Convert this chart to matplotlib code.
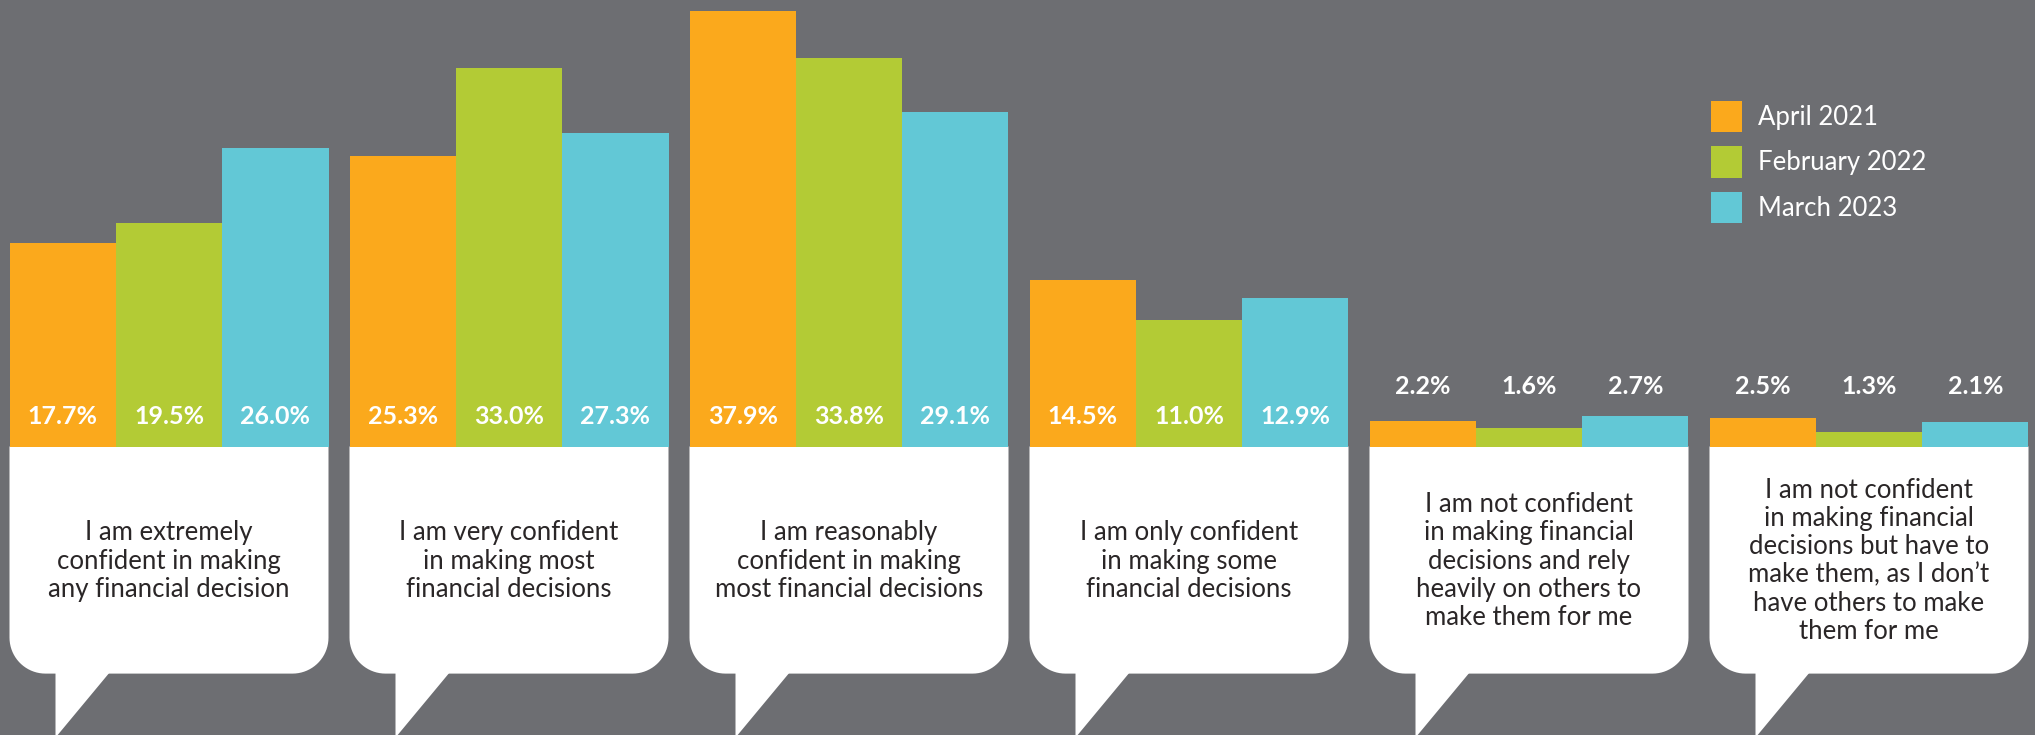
import matplotlib
matplotlib.use("Agg")
import matplotlib.pyplot as plt
import numpy as np
from matplotlib.patches import Polygon, Rectangle

categories = [
    "I am extremely\nconfident in making\nany financial decision",
    "I am very confident\nin making most\nfinancial decisions",
    "I am reasonably\nconfident in making\nmost financial decisions",
    "I am only confident\nin making some\nfinancial decisions",
    "I am not confident\nin making financial\ndecisions and rely\nheavily on others to\nmake them for me",
    "I am not confident\nin making financial\ndecisions but have to\nmake them, as I don\u2019t\nhave others to make\nthem for me",
]
series = ["April 2021", "February 2022", "March 2023"]
april_2021 = [17.7, 25.3, 37.9, 14.5, 2.2, 2.5]
february_2022 = [19.5, 33.0, 33.8, 11.0, 1.6, 1.3]
march_2023 = [26.0, 27.3, 29.1, 12.9, 2.7, 2.1]
values = [april_2021, february_2022, march_2023]

colors = ["#FBA91C", "#B3CB35", "#62C8D6"]
bg = "#6D6E72"
font = "Lato"

W, H = 2035, 735
fig = plt.figure(figsize=(W / 100, H / 100), dpi=100, facecolor=bg)
ax = fig.add_axes([0, 0, 1, 1])
ax.set_facecolor(bg)
ax.axis("off")

px_per_x = 340.0
px_per_y = 11.48
base_px = 446.5
first_center_px = 169.0
ax.set_xlim(-first_center_px / px_per_x, (W - first_center_px) / px_per_x)
ax.set_ylim(-(H - base_px) / px_per_y, base_px / px_per_y)

group_w = 319.0 / px_per_x
bar_w = group_w / 3
x = np.arange(len(categories))

bub_bottom = -(673.6 - base_px) / px_per_y
rx = 36 / px_per_x
ry = 36 / px_per_y
for i in x:
    L = i - group_w / 2
    R = i + group_w / 2
    t = np.linspace(0, np.pi / 2, 20)
    pts = [(L, 0), (R, 0)]
    for a in t:
        pts.append((R - rx + rx * np.cos(a), bub_bottom + ry - ry * np.sin(a)))
    for a in t[::-1]:
        pts.append((L + rx - rx * np.cos(a), bub_bottom + ry - ry * np.sin(a)))
    pts.append((L, 0))
    ax.add_patch(Polygon(pts, closed=True, facecolor="white", edgecolor="none", zorder=1))
    tail = [(L + 46 / px_per_x, bub_bottom + 1 / px_per_y),
            (L + 100 / px_per_x, bub_bottom + 1 / px_per_y),
            (L + 46 / px_per_x, bub_bottom - 64 / px_per_y)]
    ax.add_patch(Polygon(tail, closed=True, facecolor="white", edgecolor="none", zorder=1))
    ax.text(i, -(561 - base_px) / px_per_y, categories[i], ha="center", va="center",
            multialignment="center", fontsize=18.5, color="#2A2627", family=font,
            fontweight="normal", linespacing=1.16, zorder=3)

for j, (vals, c) in enumerate(zip(values, colors)):
    xs = x + (j - 1) * bar_w
    ax.bar(xs, vals, width=bar_w, color=c, edgecolor="none", zorder=2)
    for xi, v in zip(xs, vals):
        if v > 5:
            y = (base_px - 417) / px_per_y
        else:
            y = (base_px - 387) / px_per_y
        ax.text(xi, y, f"{v:.1f}%", ha="center", va="center", fontsize=18,
                color="white", family=font, fontweight="bold", zorder=4)

for k, (s, c) in enumerate(zip(series, colors)):
    top = 101 + 45.5 * k
    ax.add_patch(Rectangle((1711 / W, 1 - (top + 31) / H), 31 / W, 31 / H,
                           transform=ax.transAxes, facecolor=c, edgecolor="none", zorder=2))
    ax.text(1758 / W, 1 - (top + 16) / H, s, transform=ax.transAxes, ha="left", va="center",
            fontsize=18.5, color="white", family=font, zorder=3)

fig.savefig("out.png", dpi=100, facecolor=bg)
